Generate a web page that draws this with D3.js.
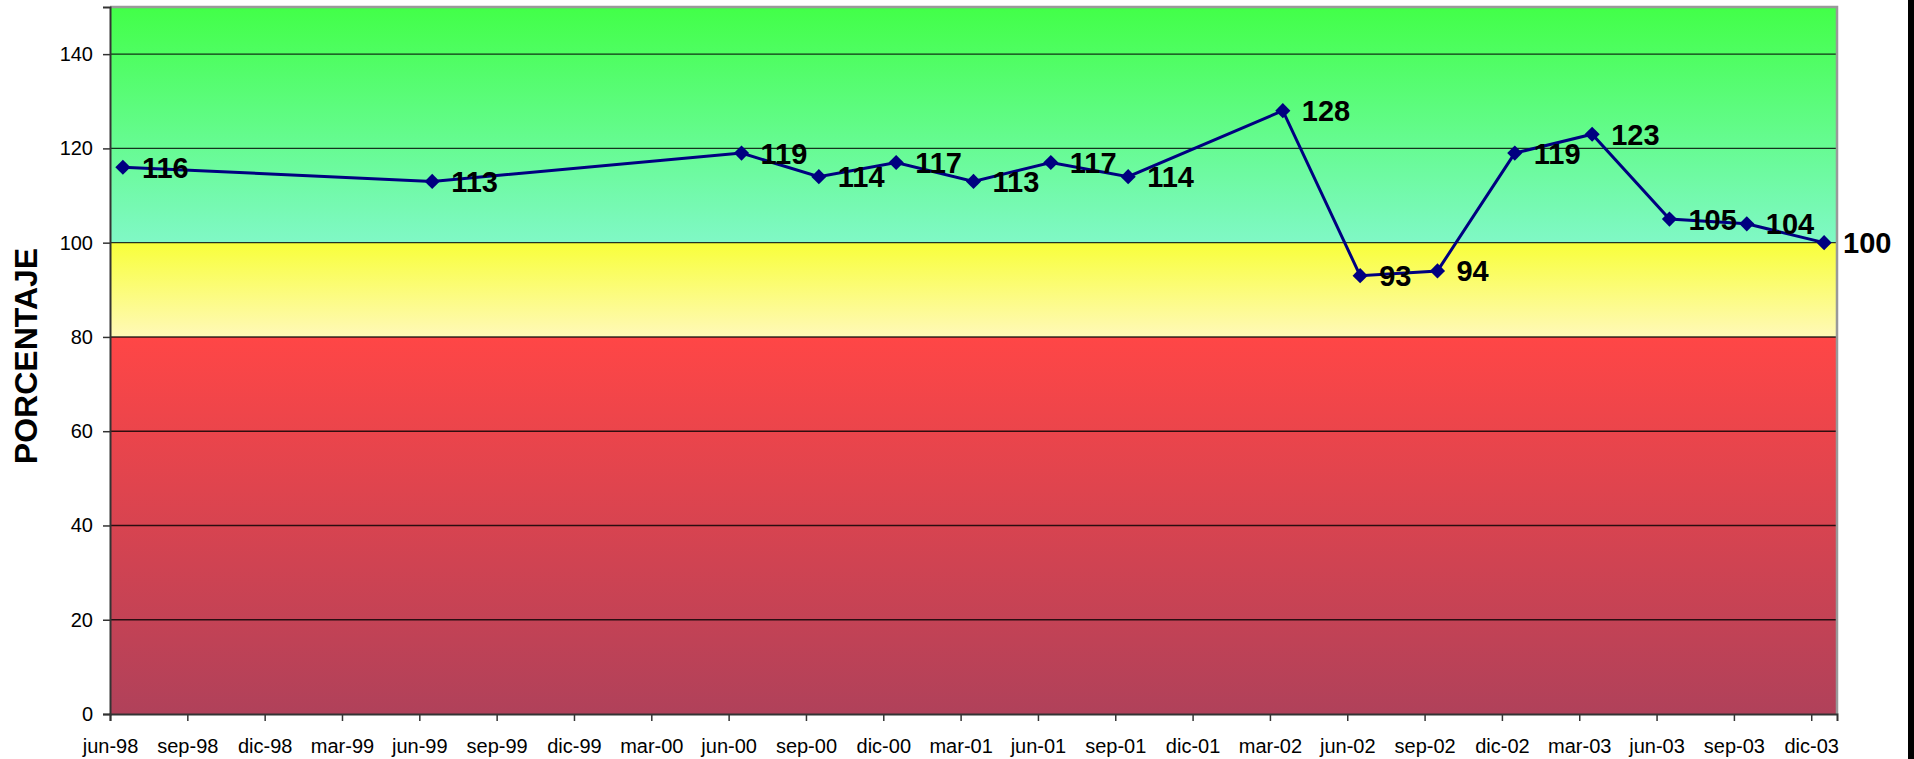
<!DOCTYPE html>
<html>
<head>
<meta charset="utf-8">
<script src="https://cdn.jsdelivr.net/npm/d3@7"></script>
<style>
  body { margin: 0; background: #fff; }
  text { font-family: "Liberation Sans", Arial, sans-serif; }
</style>
</head>
<body>
<svg id="chart" width="1914" height="759"></svg>
<script>
// data
var periods = ["jun-98","jun-99","jun-00","sep-00","dic-00","mar-01","jun-01","sep-01",
               "mar-02","jun-02","sep-02","dic-02","mar-03","jun-03","sep-03","dic-03"];
var values = [116,113,119,114,117,113,117,114,128,93,94,119,123,105,104,100];

var tickLabels = ["jun-98","sep-98","dic-98","mar-99","jun-99","sep-99","dic-99","mar-00",
                  "jun-00","sep-00","dic-00","mar-01","jun-01","sep-01","dic-01","mar-02",
                  "jun-02","sep-02","dic-02","mar-03","jun-03","sep-03","dic-03"];
var yTicks = [0,20,40,60,80,100,120,140];
var bandLimits = [0,80,100,150];

var months = ["ene","feb","mar","abr","may","jun","jul","ago","sep","oct","nov","dic"];
var monthIndex = function(lbl){
    var p = lbl.split("-");
    return (2000 + (+p[1] > 50 ? +p[1]-100 : +p[1]))*12 + months.indexOf(p[0]);
};

var plotLeft = 110, plotRight = 1837, plotTop = 7, plotBottom = 714;
var start = monthIndex("jun-98");

var x = d3.scaleLinear().domain([start, start+67]).range([plotLeft, plotRight]);
var y = d3.scaleLinear().domain([0,150]).range([plotBottom, plotTop]);

var svg = d3.select("#chart");
var defs = svg.append("defs");

var bandColors = [["#ff4646","#b0415a"],["#f8ff3a","#fff9b8"],["#42ff48","#80f8c6"]];
bandColors.forEach(function(c,i){
    var g = defs.append("linearGradient").attr("id","band"+i)
        .attr("x1",0).attr("y1",0).attr("x2",0).attr("y2",1);
    g.append("stop").attr("offset","0%").attr("stop-color",c[0]);
    g.append("stop").attr("offset","100%").attr("stop-color",c[1]);
});

// background bands
for(var i=0;i<bandLimits.length-1;i++){
    svg.append("rect")
        .attr("x",plotLeft)
        .attr("y",y(bandLimits[i+1]))
        .attr("width",plotRight-plotLeft)
        .attr("height",y(bandLimits[i])-y(bandLimits[i+1]))
        .attr("fill","url(#band"+i+")");
}

// gridlines
svg.selectAll(".grid")
    .data(yTicks.filter(function(d){ return d>0; }))
    .enter()
    .append("line")
    .attr("x1",plotLeft).attr("x2",plotRight)
    .attr("y1",function(d){ return y(d); })
    .attr("y2",function(d){ return y(d); })
    .attr("stroke","#000")
    .attr("stroke-opacity",0.8)
    .attr("stroke-width",1.4);

// frame top/right
svg.append("path")
    .attr("d","M"+plotLeft+","+plotTop+"H"+plotRight+"V"+plotBottom)
    .attr("fill","none").attr("stroke","#999").attr("stroke-width",2.5);

// y axis
var yAxis = d3.axisLeft(y).tickValues(yTicks).tickSize(7).tickPadding(10);
var gy = svg.append("g").attr("transform","translate("+plotLeft+",0)").call(yAxis);
gy.select(".domain").attr("stroke","#333").attr("stroke-width",2);
gy.selectAll(".tick line").attr("stroke","#333").attr("stroke-width",1.5);
gy.selectAll("text").attr("font-size",20).attr("fill","#000")
    .style("font-family","'Liberation Sans', Arial, sans-serif");

// x axis
var xAxis = d3.axisBottom(x)
    .tickValues(tickLabels.map(monthIndex))
    .tickFormat(function(d,i){ return tickLabels[i]; })
    .tickSize(7).tickPadding(18);
var gx = svg.append("g").attr("transform","translate(0,"+plotBottom+")").call(xAxis);
gx.select(".domain").attr("stroke","#333").attr("stroke-width",2);
gx.selectAll(".tick line").attr("stroke","#333").attr("stroke-width",1.5);
gx.selectAll("text").attr("font-size",20).attr("fill","#000")
    .style("font-family","'Liberation Sans', Arial, sans-serif");

// axis title
svg.append("text")
    .attr("transform","translate(37,356) rotate(-90)")
    .attr("text-anchor","middle")
    .attr("font-size",32)
    .attr("font-weight","bold")
    .text("PORCENTAJE");

// series
var pts = periods.map(function(p,i){ return {m: monthIndex(p)+0.5, v: values[i]}; });

var line = d3.line()
    .x(function(d){ return x(d.m); })
    .y(function(d){ return y(d.v); });

svg.append("path")
    .datum(pts)
    .attr("d",line)
    .attr("fill","none")
    .attr("stroke","#000080")
    .attr("stroke-width",3);

svg.selectAll(".marker")
    .data(pts)
    .enter()
    .append("path")
    .attr("d",d3.symbol(d3.symbolSquare,115))
    .attr("transform",function(d){ return "translate("+x(d.m)+","+y(d.v)+") rotate(45)"; })
    .attr("fill","#000080");

svg.selectAll(".lbl")
    .data(pts)
    .enter()
    .append("text")
    .attr("x",function(d){ return x(d.m)+19; })
    .attr("y",function(d){ return y(d.v); })
    .attr("dy","0.36em")
    .attr("font-size",29)
    .attr("font-weight","bold")
    .attr("fill","#000")
    .text(function(d){ return d.v; });

// black edge on the right
svg.append("rect").attr("x",1908).attr("y",0).attr("width",6).attr("height",759).attr("fill","#000");
</script>
</body>
</html>
